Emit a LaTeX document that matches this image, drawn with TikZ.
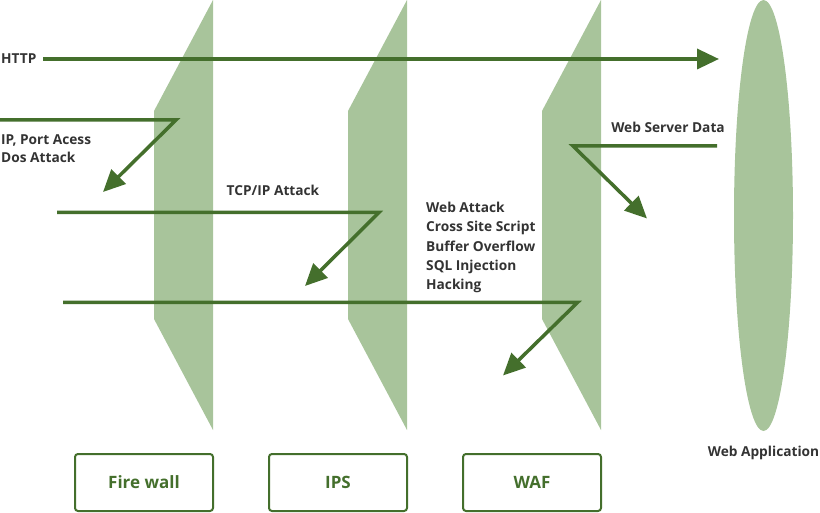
\documentclass[tikz,border=0pt]{standalone}
\usepackage{fontspec}
\setmainfont{Open Sans}
\usetikzlibrary{arrows.meta,shapes.geometric}
\definecolor{panelgreen}{HTML}{A8C49B}
\definecolor{arrowgreen}{HTML}{446F2C}
\definecolor{txtgray}{HTML}{333333}
\tikzset{
  panel/.style={fill=panelgreen, draw=none},
  arr/.style={draw=arrowgreen, line width=3.5pt, line join=miter,
    -{Triangle[length=22pt,width=20pt]}},
  lbl/.style={text=txtgray, font=\fontsize{13.7}{19.3}\selectfont\bfseries, inner sep=0pt, align=left},
  devbox/.style={draw=arrowgreen, line width=2pt, rounded corners=3pt, minimum width=138pt, minimum height=57pt,
    text=arrowgreen, font=\fontsize{17}{20}\selectfont\bfseries, inner sep=0pt}
}
\begin{document}
\begin{tikzpicture}[x=1pt,y=-1pt]
\useasboundingbox (0,0) rectangle (820,513);
% panels
\foreach \r in {213,407,601}{
  \path[panel] (\r,0) -- (\r-59,111) -- (\r-59,319) -- (\r,430) -- cycle;
}
% web application ellipse
\node[ellipse, fill=panelgreen, minimum width=59pt, minimum height=431pt, inner sep=0pt] (app) at (763.5,215.5) {};
\node[lbl, anchor=center] (applbl) at (763.5,453) {Web Application};

% boxes
\node[devbox] (fw) at (144,482.5) {Fire wall};
\node[devbox] (ips) at (338,482.5) {IPS};
\node[devbox] (waf) at (532,482.5) {WAF};

% HTTP
\node[lbl, anchor=west] (http) at (1,59) {HTTP};
\coordinate (httpS) at (43,59);
\coordinate (httpE) at (719,59);
\draw[arr] (httpS) -- (httpE);

% IP / Port
\node[lbl, anchor=north west, font=\fontsize{13.7}{18}\selectfont\bfseries] (iplbl) at (1,134.5) {IP, Port Acess\\Dos Attack};
\coordinate (ipS) at (0,120);
\coordinate (ipB) at (176,120);
\coordinate (ipE) at (103,192);
\draw[arr] (ipS) -- (ipB) -- (ipE);

% TCP/IP
\node[lbl, anchor=center] (tcplbl) at (273,190) {TCP/IP Attack};
\coordinate (tcpS) at (57,212.5);
\coordinate (tcpB) at (379,212.5);
\coordinate (tcpE) at (305,286);
\draw[arr] (tcpS) -- (tcpB) -- (tcpE);

% Web attack
\node[lbl, anchor=north west] (weblbl) at (426,202) {Web Attack\\Cross Site Script\\Buffer Overflow\\SQL Injection\\Hacking};
\coordinate (webS) at (63,302.5);
\coordinate (webB) at (577.5,302.5);
\coordinate (webE) at (503,375.5);
\draw[arr] (webS) -- (webB) -- (webE);

% Web server data
\node[lbl, anchor=center] (wsdlbl) at (668,127) {Web Server Data};
\coordinate (wsdS) at (717,146);
\coordinate (wsdB) at (573,146);
\coordinate (wsdE) at (647,218.5);
\draw[arr] (wsdS) -- (wsdB) -- (wsdE);
\end{tikzpicture}
\end{document}
